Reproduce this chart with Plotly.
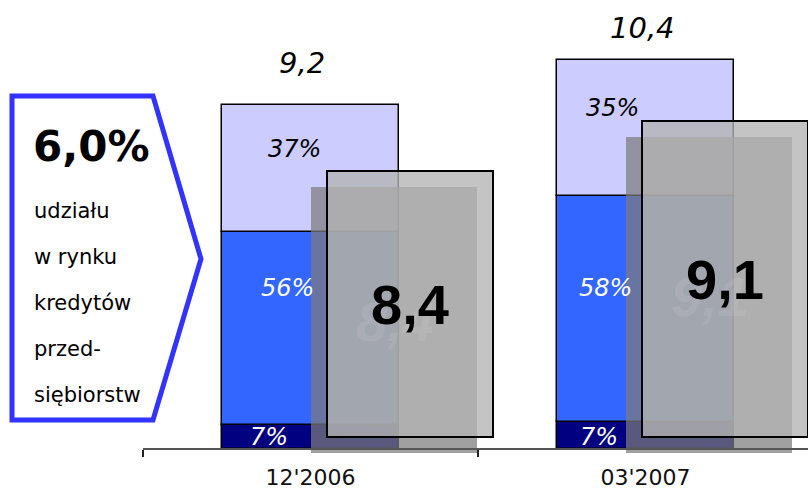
import plotly.graph_objects as go

# ---- data ----
periods = ["12'2006", "03'2007"]
totals = [9.2, 10.4]               # total loan volume per period
share_bottom = [7, 7]              # % share, dark navy segment
share_middle = [56, 58]            # % share, blue segment
share_top = [37, 35]               # % share, lavender segment
box_values = [8.4, 9.1]            # values shown in the grey boxes
headline = "6,0%"
headline_lines = ["udziału", "w rynku", "kredytów", "przed-", "siębiorstw"]


def pl(v):
    return f"{v:.1f}".replace(".", ",")


# ---- geometry / style ----
W, H = 808, 491
ML, MR, MT, MB = 143, 0, 0, 31
PW, PH = W - ML - MR, H - MT - MB
BASE_PX = 11                      # zero line sits this far above the plot bottom
PX_PER_UNIT = 37.4
y_range = [-BASE_PX / PX_PER_UNIT, (PH - BASE_PX) / PX_PER_UNIT]
y2_range = [4.354, 10.794]         # scale of the grey boxes
box_floor = 4.676
shadow_drop = 0.224
bar_w = 0.53
box_w = 0.4955
box_off = [0.050, -0.0096]
shadow_dx = -0.0478

navy, blue, lav = "#000080", "#3366FF", "#CCCCFF"
FONT = "DejaVu Sans"

segments = [
    (share_bottom, navy, "white"),
    (share_middle, blue, "white"),
    (share_top, lav, "black"),
]

fig = go.Figure()
annotations = []

# label nudges per segment (x px, y px) for each period
seg_xshift = [[-42, -47], [-23, -40], [-16, -33]]
seg_yshift = [[0, -2], [41, 21], [20, 20]]

base = [0.0] * len(periods)
for si, (shares, color, tcol) in enumerate(segments):
    heights = [t * s / 100 for t, s in zip(totals, shares)]
    fig.add_trace(go.Bar(
        x=periods, y=heights, base=base[:], width=bar_w,
        marker=dict(color=color, line=dict(color="black", width=1.5)),
        hoverinfo="skip", showlegend=False,
    ))
    for i, (b, h, s) in enumerate(zip(base, heights, shares)):
        annotations.append(dict(
            x=i, y=b + h / 2, xref="x", yref="y", text=f"{s}%",
            showarrow=False, xshift=seg_xshift[si][i], yshift=seg_yshift[si][i],
            font=dict(family=FONT, size=24, color=tcol, style="italic"),
        ))
    base = [b + h for b, h in zip(base, heights)]

# totals above stacked bars
tot_xshift = [-9, -3]
tot_yshift = [42, 32]
for i, t in enumerate(totals):
    annotations.append(dict(
        x=i, y=t, xref="x", yref="y", text=pl(t), showarrow=False,
        yanchor="middle", xshift=tot_xshift[i], yshift=tot_yshift[i],
        font=dict(family=FONT, size=29, color="black", style="italic"),
    ))

# grey boxes with drop shadow (secondary scale)
fig.add_trace(go.Bar(
    x=periods, y=[v - box_floor for v in box_values],
    base=[box_floor - shadow_drop] * len(box_values),
    offset=[o + shadow_dx for o in box_off], width=box_w,
    marker=dict(color="rgba(124,124,124,0.72)", line=dict(width=0)),
    yaxis="y2", hoverinfo="skip", showlegend=False,
))
fig.add_trace(go.Bar(
    x=periods, y=[v - box_floor for v in box_values],
    base=[box_floor] * len(box_values),
    offset=box_off, width=box_w,
    marker=dict(color="rgba(179,179,179,0.78)", line=dict(color="black", width=2)),
    yaxis="y2", hoverinfo="skip", showlegend=False,
))
for i, v in enumerate(box_values):
    cx = i + box_off[i] + box_w / 2
    cy = (box_floor + v) / 2
    # faint embossed echo of the value, then the value itself
    annotations.append(dict(
        x=cx, y=cy, xref="x", yref="y2", text=f"<b>{pl(v)}</b>",
        showarrow=False, xshift=-15, yshift=-17,
        font=dict(family="Liberation Sans", size=56, color="rgba(205,205,205,0.2)",
                  style="italic"),
    ))
    annotations.append(dict(
        x=cx, y=cy, xref="x", yref="y2", text=f"<b>{pl(v)}</b>",
        showarrow=False,
        font=dict(family="Liberation Sans", size=56, color="black"),
    ))


# callout on the left (pixel positions converted to paper coordinates)
def px(xp, yp):
    return (xp - ML) / PW, (PH + MT - yp) / PH


pts = [px(12, 96), px(153, 96), px(201, 259), px(153, 420), px(12, 420)]
path = "M " + " L ".join(f"{a:.5f},{b:.5f}" for a, b in pts) + " Z"
shapes = [dict(type="path", path=path, xref="paper", yref="paper",
               line=dict(color="#3333FF", width=5), fillcolor="rgba(0,0,0,0)",
               layer="above")]

hx, hy = px(31, 146)
annotations.append(dict(
    x=hx, y=hy, xref="paper", yref="paper", text=f"<b>{headline}</b>",
    showarrow=False, xanchor="left", yanchor="middle",
    font=dict(family=FONT, size=42, color="black"),
))
for k, line in enumerate(headline_lines):
    lx, ly = px(32, 211 + 46 * k)
    annotations.append(dict(
        x=lx, y=ly, xref="paper", yref="paper", text=line,
        showarrow=False, xanchor="left", yanchor="middle",
        font=dict(family=FONT, size=21, color="black"),
    ))

fig.update_layout(
    width=W, height=H, autosize=False,
    margin=dict(l=ML, r=MR, t=MT, b=MB, pad=0, autoexpand=False),
    paper_bgcolor="white", plot_bgcolor="white",
    barmode="overlay", bargap=0,
    showlegend=False,
    annotations=annotations, shapes=shapes,
    xaxis=dict(
        type="category", range=[-0.5, 1.485],
        anchor="free", position=BASE_PX / PH, automargin=False,
        showline=True, linecolor="#555555", linewidth=2,
        ticks="outside", tickson="boundaries", ticklen=7, tickwidth=2,
        tickcolor="#222222", showgrid=False, zeroline=False,
        tickfont=dict(family=FONT, size=22, color="#111111"),
        ticklabelstandoff=9,
    ),
    yaxis=dict(range=y_range, visible=False, showgrid=False, zeroline=False,
               automargin=False),
    yaxis2=dict(range=y2_range, overlaying="y", visible=False,
                showgrid=False, zeroline=False, automargin=False),
)

fig.write_html("out.html")
